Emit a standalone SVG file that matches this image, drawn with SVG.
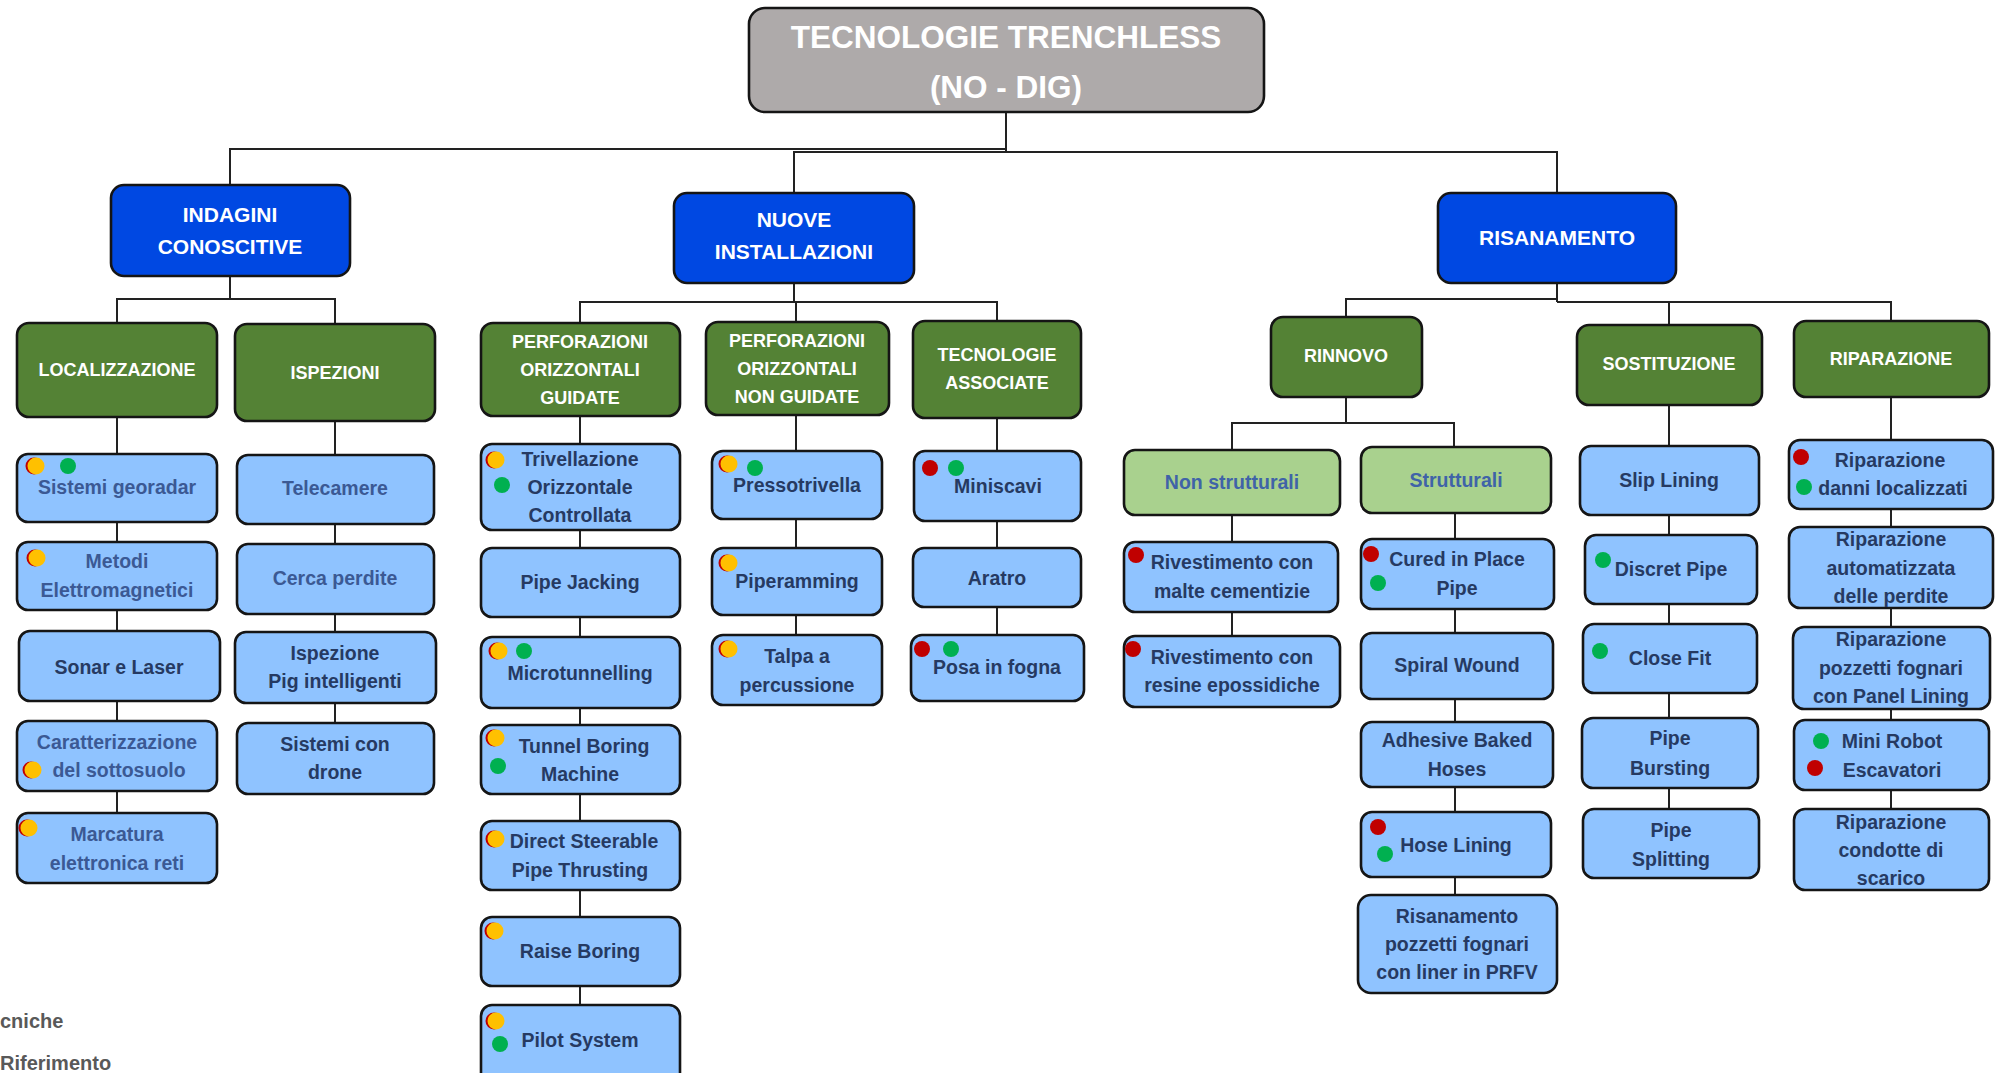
<svg xmlns="http://www.w3.org/2000/svg" width="1999" height="1073" viewBox="0 0 1999 1073">
<style>
.bx{stroke:#151515;stroke-width:2.6}
.root{fill:#AEAAAA}
.l1{fill:#0048E2}
.l2{fill:#548235}
.lg{fill:#A9D18E}
.lb{fill:#8FC3FF}
.cn{fill:none;stroke:#222;stroke-width:2}
text{font-family:"Liberation Sans",Arial,sans-serif;font-weight:bold;text-anchor:middle}
.tr{fill:#fff;font-size:31.5px}
.t1{fill:#fff;font-size:21px}
.t2{fill:#fff;font-size:18px}
.td{fill:#263A62;font-size:19.5px}
.tl{fill:#3B5994;font-size:19.5px}
.tg{fill:#3F63A8;font-size:19.5px}
.ft{fill:#595959;font-size:20px;text-anchor:start}
</style>
<defs>
<g id="dO"><circle cx="-2" cy="0" r="8.5" fill="#C00000"/><circle cx="0" cy="0" r="8.5" fill="#FFC000"/></g>
<circle id="dG" cx="0" cy="0" r="8" fill="#00B050"/>
<circle id="dR" cx="0" cy="0" r="8" fill="#C00000"/>
</defs>
<rect width="1999" height="1073" fill="#fff"/>
<g id="connectors">
<path class="cn" d="M1006 112V151M230 185V149H1006M794 193V152H1557V193"/>
<path class="cn" d="M230 276V299M117 323V299H335V324"/>
<path class="cn" d="M794 283V302M580 323V302H997V321M796 302V322"/>
<path class="cn" d="M1557 283V302M1346 317V299H1557M1557 302H1891V321M1669 302V325"/>
<path class="cn" d="M1346 397V423M1232 450V423H1454V447"/>
<path class="cn" d="M117 417V813M335 421V723M580 416V1005M796 415V635M997 418V635M1232 515V636M1455 513V895M1669 405V809M1891 397V809"/>
</g>
<g id="n-root"><rect class="bx root" x="749" y="8" width="515" height="104" rx="16"/><text class="tr" x="1006" y="48">TECNOLOGIE TRENCHLESS</text><text class="tr" x="1006" y="98">(NO - DIG)</text></g>
<g id="n-indagini"><rect class="bx l1" x="111" y="185" width="239" height="91" rx="13"/><text class="t1" x="230" y="222">INDAGINI</text><text class="t1" x="230" y="254">CONOSCITIVE</text></g>
<g id="n-nuove"><rect class="bx l1" x="674" y="193" width="240" height="90" rx="13"/><text class="t1" x="794" y="227">NUOVE</text><text class="t1" x="794" y="259">INSTALLAZIONI</text></g>
<g id="n-risanamento"><rect class="bx l1" x="1438" y="193" width="238" height="90" rx="13"/><text class="t1" x="1557" y="245">RISANAMENTO</text></g>
<g id="n-localizzazione"><rect class="bx l2" x="17" y="323" width="200" height="94" rx="12"/><text class="t2" x="117" y="376">LOCALIZZAZIONE</text></g>
<g id="n-ispezioni"><rect class="bx l2" x="235" y="324" width="200" height="97" rx="12"/><text class="t2" x="335" y="379">ISPEZIONI</text></g>
<g id="n-guidate"><rect class="bx l2" x="481" y="323" width="199" height="93" rx="12"/><text class="t2" x="580" y="348">PERFORAZIONI</text><text class="t2" x="580" y="376">ORIZZONTALI</text><text class="t2" x="580" y="404">GUIDATE</text></g>
<g id="n-nonguidate"><rect class="bx l2" x="706" y="322" width="183" height="93" rx="12"/><text class="t2" x="797" y="347">PERFORAZIONI</text><text class="t2" x="797" y="375">ORIZZONTALI</text><text class="t2" x="797" y="403">NON GUIDATE</text></g>
<g id="n-associate"><rect class="bx l2" x="913" y="321" width="168" height="97" rx="12"/><text class="t2" x="997" y="361">TECNOLOGIE</text><text class="t2" x="997" y="389">ASSOCIATE</text></g>
<g id="n-rinnovo"><rect class="bx l2" x="1271" y="317" width="151" height="80" rx="12"/><text class="t2" x="1346" y="362">RINNOVO</text></g>
<g id="n-sostituzione"><rect class="bx l2" x="1577" y="325" width="185" height="80" rx="12"/><text class="t2" x="1669" y="370">SOSTITUZIONE</text></g>
<g id="n-riparazione"><rect class="bx l2" x="1794" y="321" width="195" height="76" rx="12"/><text class="t2" x="1891" y="365">RIPARAZIONE</text></g>
<g id="n-georadar"><rect class="bx lb" x="17" y="454" width="200" height="68" rx="11"/><use href="#dO" x="36" y="466"/><use href="#dG" x="68" y="466"/><text class="tl" x="117" y="494">Sistemi georadar</text></g>
<g id="n-metodi"><rect class="bx lb" x="17" y="542" width="200" height="68" rx="11"/><use href="#dO" x="37" y="558"/><text class="tl" x="117" y="568">Metodi</text><text class="tl" x="117" y="597">Elettromagnetici</text></g>
<g id="n-sonar"><rect class="bx lb" x="19" y="631" width="201" height="70" rx="11"/><text class="td" x="119" y="674">Sonar e Laser</text></g>
<g id="n-caratterizzazione"><rect class="bx lb" x="17" y="721" width="200" height="70" rx="11"/><use href="#dO" x="33" y="770"/><text class="tl" x="117" y="749">Caratterizzazione</text><text class="tl" x="119" y="777">del sottosuolo</text></g>
<g id="n-marcatura"><rect class="bx lb" x="17" y="813" width="200" height="70" rx="11"/><use href="#dO" x="29" y="828"/><text class="tl" x="117" y="841">Marcatura</text><text class="tl" x="117" y="870">elettronica reti</text></g>
<g id="n-telecamere"><rect class="bx lb" x="237" y="455" width="197" height="69" rx="11"/><text class="tl" x="335" y="495">Telecamere</text></g>
<g id="n-cerca"><rect class="bx lb" x="237" y="544" width="197" height="70" rx="11"/><text class="tl" x="335" y="585">Cerca perdite</text></g>
<g id="n-pig"><rect class="bx lb" x="235" y="632" width="201" height="71" rx="11"/><text class="td" x="335" y="660">Ispezione</text><text class="td" x="335" y="688">Pig intelligenti</text></g>
<g id="n-drone"><rect class="bx lb" x="237" y="723" width="197" height="71" rx="11"/><text class="td" x="335" y="751">Sistemi con</text><text class="td" x="335" y="779">drone</text></g>
<g id="n-toc"><rect class="bx lb" x="481" y="444" width="199" height="86" rx="11"/><use href="#dO" x="496" y="460"/><use href="#dG" x="502" y="485"/><text class="td" x="580" y="466">Trivellazione</text><text class="td" x="580" y="494">Orizzontale</text><text class="td" x="580" y="522">Controllata</text></g>
<g id="n-pipejacking"><rect class="bx lb" x="481" y="548" width="199" height="69" rx="11"/><text class="td" x="580" y="589">Pipe Jacking</text></g>
<g id="n-microtunnelling"><rect class="bx lb" x="481" y="637" width="199" height="71" rx="11"/><use href="#dO" x="499" y="651"/><use href="#dG" x="524" y="651"/><text class="td" x="580" y="680">Microtunnelling</text></g>
<g id="n-tbm"><rect class="bx lb" x="481" y="725" width="199" height="69" rx="11"/><use href="#dO" x="496" y="738"/><use href="#dG" x="498" y="766"/><text class="td" x="584" y="753">Tunnel Boring</text><text class="td" x="580" y="781">Machine</text></g>
<g id="n-dspt"><rect class="bx lb" x="481" y="821" width="199" height="69" rx="11"/><use href="#dO" x="496" y="839"/><text class="td" x="584" y="848">Direct Steerable</text><text class="td" x="580" y="877">Pipe Thrusting</text></g>
<g id="n-raise"><rect class="bx lb" x="481" y="917" width="199" height="69" rx="11"/><use href="#dO" x="495" y="931"/><text class="td" x="580" y="958">Raise Boring</text></g>
<g id="n-pilot"><rect class="bx lb" x="481" y="1005" width="199" height="80" rx="11"/><use href="#dO" x="496" y="1021"/><use href="#dG" x="500" y="1044"/><text class="td" x="580" y="1047">Pilot System</text></g>
<g id="n-pressotrivella"><rect class="bx lb" x="712" y="451" width="170" height="68" rx="11"/><use href="#dO" x="729" y="464"/><use href="#dG" x="755" y="468"/><text class="td" x="797" y="492">Pressotrivella</text></g>
<g id="n-piperamming"><rect class="bx lb" x="712" y="548" width="170" height="67" rx="11"/><use href="#dO" x="729" y="563"/><text class="td" x="797" y="588">Piperamming</text></g>
<g id="n-talpa"><rect class="bx lb" x="712" y="635" width="170" height="70" rx="11"/><use href="#dO" x="729" y="649"/><text class="td" x="797" y="663">Talpa a</text><text class="td" x="797" y="692">percussione</text></g>
<g id="n-miniscavi"><rect class="bx lb" x="914" y="451" width="167" height="70" rx="11"/><use href="#dR" x="930" y="468"/><use href="#dG" x="956" y="468"/><text class="td" x="998" y="493">Miniscavi</text></g>
<g id="n-aratro"><rect class="bx lb" x="913" y="548" width="168" height="59" rx="11"/><text class="td" x="997" y="585">Aratro</text></g>
<g id="n-posa"><rect class="bx lb" x="911" y="635" width="173" height="66" rx="11"/><use href="#dR" x="922" y="649"/><use href="#dG" x="951" y="649"/><text class="td" x="997" y="674">Posa in fogna</text></g>
<g id="n-nonstrutturali"><rect class="bx lg" x="1124" y="450" width="216" height="65" rx="11"/><text class="tg" x="1232" y="489">Non strutturali</text></g>
<g id="n-strutturali"><rect class="bx lg" x="1361" y="447" width="190" height="66" rx="11"/><text class="tg" x="1456" y="487">Strutturali</text></g>
<g id="n-malte"><rect class="bx lb" x="1124" y="542" width="214" height="70" rx="11"/><use href="#dR" x="1136" y="555"/><text class="td" x="1232" y="569">Rivestimento con</text><text class="td" x="1232" y="598">malte cementizie</text></g>
<g id="n-resine"><rect class="bx lb" x="1124" y="636" width="216" height="71" rx="11"/><use href="#dR" x="1133" y="649"/><text class="td" x="1232" y="664">Rivestimento con</text><text class="td" x="1232" y="692">resine epossidiche</text></g>
<g id="n-cipp"><rect class="bx lb" x="1361" y="539" width="193" height="70" rx="11"/><use href="#dR" x="1371" y="554"/><use href="#dG" x="1378" y="583"/><text class="td" x="1457" y="566">Cured in Place</text><text class="td" x="1457" y="595">Pipe</text></g>
<g id="n-spiral"><rect class="bx lb" x="1361" y="633" width="192" height="66" rx="11"/><text class="td" x="1457" y="672">Spiral Wound</text></g>
<g id="n-adhesive"><rect class="bx lb" x="1361" y="722" width="192" height="65" rx="11"/><text class="td" x="1457" y="747">Adhesive Baked</text><text class="td" x="1457" y="776">Hoses</text></g>
<g id="n-hose"><rect class="bx lb" x="1361" y="812" width="190" height="65" rx="11"/><use href="#dR" x="1378" y="827"/><use href="#dG" x="1385" y="854"/><text class="td" x="1456" y="852">Hose Lining</text></g>
<g id="n-pozzetti-prfv"><rect class="bx lb" x="1358" y="895" width="199" height="98" rx="13"/><text class="td" x="1457" y="923">Risanamento</text><text class="td" x="1457" y="951">pozzetti fognari</text><text class="td" x="1457" y="979">con liner in PRFV</text></g>
<g id="n-slip"><rect class="bx lb" x="1580" y="446" width="179" height="69" rx="11"/><text class="td" x="1669" y="487">Slip Lining</text></g>
<g id="n-discret"><rect class="bx lb" x="1585" y="535" width="172" height="69" rx="11"/><use href="#dG" x="1603" y="560"/><text class="td" x="1671" y="576">Discret Pipe</text></g>
<g id="n-closefit"><rect class="bx lb" x="1583" y="624" width="174" height="69" rx="11"/><use href="#dG" x="1600" y="651"/><text class="td" x="1670" y="665">Close Fit</text></g>
<g id="n-bursting"><rect class="bx lb" x="1582" y="718" width="176" height="70" rx="11"/><text class="td" x="1670" y="745">Pipe</text><text class="td" x="1670" y="775">Bursting</text></g>
<g id="n-splitting"><rect class="bx lb" x="1583" y="809" width="176" height="69" rx="11"/><text class="td" x="1671" y="837">Pipe</text><text class="td" x="1671" y="866">Splitting</text></g>
<g id="n-danni"><rect class="bx lb" x="1789" y="440" width="204" height="69" rx="11"/><use href="#dR" x="1801" y="457"/><use href="#dG" x="1804" y="487"/><text class="td" x="1890" y="467">Riparazione</text><text class="td" x="1893" y="495">danni localizzati</text></g>
<g id="n-automatizzata"><rect class="bx lb" x="1789" y="527" width="204" height="81" rx="11"/><text class="td" x="1891" y="546">Riparazione</text><text class="td" x="1891" y="575">automatizzata</text><text class="td" x="1891" y="603">delle perdite</text></g>
<g id="n-panel"><rect class="bx lb" x="1793" y="627" width="197" height="82" rx="11"/><text class="td" x="1891" y="646">Riparazione</text><text class="td" x="1891" y="675">pozzetti fognari</text><text class="td" x="1891" y="703">con Panel Lining</text></g>
<g id="n-minirobot"><rect class="bx lb" x="1794" y="720" width="195" height="70" rx="11"/><use href="#dG" x="1821" y="741"/><use href="#dR" x="1815" y="768"/><text class="td" x="1892" y="748">Mini Robot</text><text class="td" x="1892" y="777">Escavatori</text></g>
<g id="n-condotte"><rect class="bx lb" x="1794" y="809" width="195" height="81" rx="11"/><text class="td" x="1891" y="829">Riparazione</text><text class="td" x="1891" y="857">condotte di</text><text class="td" x="1891" y="885">scarico</text></g>
<text class="ft" x="0" y="1028">cniche</text>
<text class="ft" x="0" y="1070">Riferimento</text>
</svg>
